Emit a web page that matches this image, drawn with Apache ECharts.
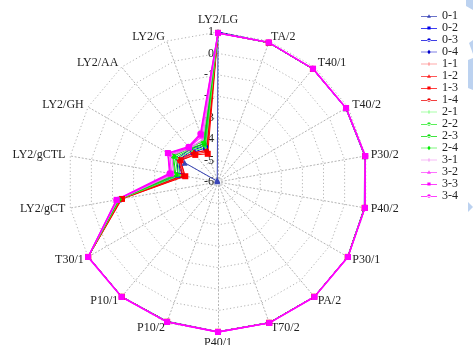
<!DOCTYPE html>
<html>
<head>
<meta charset="utf-8">
<style>
  html, body { margin: 0; padding: 0; background: #ffffff; }
  #chart { width: 473px; height: 345px; }
</style>
<script src="https://cdn.jsdelivr.net/npm/echarts@6/dist/echarts.min.js"></script>
</head>
<body>
<div id="chart"></div>
<script>
// Indicators, listed clockwise starting from the top.
const categories = ['LY2/LG', 'TA/2', 'T40/1', 'T40/2', 'P30/2', 'P40/2', 'P30/1', 'PA/2', 'T70/2',
  'P40/1', 'P10/2', 'P10/1', 'T30/1', 'LY2/gCT', 'LY2/gCTL', 'LY2/GH', 'LY2/AA', 'LY2/G'];

const radialMin = -6;
const radialMax = 1;

// Sample names, one per series.
const seriesNames = ['0-1', '0-2', '0-3', '0-4', '1-1', '1-2', '1-3', '1-4',
  '2-1', '2-2', '2-3', '2-4', '3-1', '3-2', '3-3', '3-4'];

// Values per sample, in the order of `categories`.
const v01 = [1.00, 0.93, 0.88, 0.88, 0.95, 0.93, 0.98, 0.98, 0.98, 0.98, 0.92, 0.98, 0.98, -1.30, -4.10, -4.20, -5.95, -5.90];
const v02 = [0.98, 0.92, 0.89, 0.89, 0.97, 0.95, 0.99, 0.99, 0.99, 0.99, 0.94, 0.99, 0.99, -1.35, -4.30, -4.00, -4.20, -4.30];
const v03 = [0.98, 0.92, 0.89, 0.90, 0.97, 0.95, 0.99, 0.99, 0.99, 0.99, 0.94, 0.99, 0.99, -1.30, -4.20, -3.90, -4.10, -4.20];
const v04 = [0.97, 0.91, 0.88, 0.89, 0.96, 0.94, 0.99, 0.99, 0.99, 0.99, 0.93, 0.99, 0.99, -1.28, -4.10, -3.80, -4.00, -4.10];
const v11 = [0.96, 0.92, 0.89, 0.90, 0.97, 0.95, 0.99, 0.99, 0.99, 0.99, 0.94, 0.99, 0.99, -1.40, -4.35, -3.95, -4.25, -4.40];
const v12 = [0.96, 0.92, 0.89, 0.90, 0.97, 0.95, 0.99, 0.99, 0.99, 0.99, 0.94, 0.99, 0.99, -1.42, -4.40, -4.00, -4.30, -4.50];
const v13 = [0.96, 0.92, 0.89, 0.90, 0.97, 0.95, 0.99, 0.99, 0.99, 0.99, 0.94, 0.99, 0.99, -1.45, -4.45, -3.98, -4.35, -4.60];
const v14 = [0.96, 0.92, 0.89, 0.90, 0.97, 0.95, 0.99, 0.99, 0.99, 0.99, 0.94, 0.99, 0.99, -1.38, -4.30, -3.90, -4.20, -4.45];
const v21 = [0.96, 0.92, 0.89, 0.90, 0.97, 0.95, 0.99, 0.99, 0.99, 0.99, 0.94, 0.99, 0.99, -1.35, -4.20, -3.80, -4.10, -4.30];
const v22 = [0.96, 0.92, 0.89, 0.90, 0.97, 0.95, 0.99, 0.99, 0.99, 0.99, 0.94, 0.99, 0.99, -1.33, -4.10, -3.70, -4.00, -4.20];
const v23 = [0.96, 0.92, 0.89, 0.90, 0.97, 0.95, 0.99, 0.99, 0.99, 0.99, 0.94, 0.99, 0.99, -1.30, -4.00, -3.60, -3.95, -4.10];
const v24 = [0.96, 0.92, 0.89, 0.90, 0.97, 0.95, 0.99, 0.99, 0.99, 0.99, 0.94, 0.99, 0.99, -1.28, -3.95, -3.55, -3.90, -4.00];
const v31 = [0.95, 0.93, 0.90, 0.90, 0.98, 0.96, 1.00, 1.00, 1.00, 1.00, 0.95, 1.00, 1.00, -1.25, -3.90, -3.50, -3.95, -3.90];
const v32 = [0.95, 0.93, 0.90, 0.90, 0.98, 0.96, 1.00, 1.00, 1.00, 1.00, 0.95, 1.00, 1.00, -1.22, -3.80, -3.40, -3.90, -3.75];
const v33 = [0.95, 0.93, 0.90, 0.90, 0.98, 0.96, 1.00, 1.00, 1.00, 1.00, 0.95, 1.00, 1.00, -1.20, -3.75, -3.30, -3.90, -3.65];
const v34 = [0.95, 0.93, 0.90, 0.90, 0.98, 0.96, 1.00, 1.00, 1.00, 1.00, 0.95, 1.00, 1.00, -1.18, -3.70, -3.30, -3.85, -3.60];

const seriesValues = [v01, v02, v03, v04, v11, v12, v13, v14, v21, v22, v23, v24, v31, v32, v33, v34];

// Styling per sample: colour, symbol and symbol size.
const styles = [
  { color: '#3a46b8', symbol: 'triangle', size: 6, icon: 'tri' },
  { color: '#0000ee', symbol: 'rect', size: 5, icon: 'sq' },
  { color: '#0000dd', symbol: 'circle', size: 4, icon: 'dot' },
  { color: '#0000cc', symbol: 'diamond', size: 5, icon: 'dia' },
  { color: '#ff5555', symbol: 'diamond', size: 3, icon: 'plus' },
  { color: '#ff2222', symbol: 'triangle', size: 5, icon: 'tri' },
  { color: '#ff0000', symbol: 'rect', size: 6, icon: 'sq' },
  { color: '#ee0000', symbol: 'circle', size: 5, icon: 'dot' },
  { color: '#55ff55', symbol: 'diamond', size: 3, icon: 'plus' },
  { color: '#22ee22', symbol: 'circle', size: 4, icon: 'dot' },
  { color: '#00dd00', symbol: 'circle', size: 5, icon: 'dot' },
  { color: '#00ee00', symbol: 'diamond', size: 5, icon: 'dia' },
  { color: '#ee77ee', symbol: 'diamond', size: 3, icon: 'plus' },
  { color: '#ff44ff', symbol: 'triangle', size: 5, icon: 'tri' },
  { color: '#ff00ff', symbol: 'rect', size: 6, icon: 'sq' },
  { color: '#ff00ff', symbol: 'circle', size: 6, icon: 'dot' }
];

// Legend glyphs: a thin line with the marker in the middle (18 x 5 box).
const legendGlyphs = {
  tri:  'path://M0,3h18v0.8h-18z M9,1L11.2,5H6.8z',
  sq:   'path://M0,3h18v0.8h-18z M7.2,1.2h3.6v3.6h-3.6z',
  dot:  'path://M0,3h18v0.8h-18z M7,3A2,2 0 1,0 11,3A2,2 0 1,0 7,3z',
  dia:  'path://M0,3h18v0.8h-18z M9,1L11,3.4L9,5.8L7,3.4z',
  plus: 'path://M0,3h18v0.8h-18z M8.6,1.4h0.8v4h-0.8z'
};

// The radar lays indicators out counter-clockwise, so feed it the reversed order.
const order = [0].concat(categories.slice(1).map((_, i) => categories.length - 1 - i));

const serif = 'Liberation Serif';

const indicator = order.map((i, k) => {
  const item = { name: categories[i], min: radialMin, max: radialMax };
  if (k === 0) {
    item.axisLabel = { show: true };
  }
  return item;
});

const series = seriesNames.map((name, s) => ({
  type: 'radar',
  name: name,
  symbol: styles[s].symbol,
  symbolSize: styles[s].size,
  itemStyle: { color: styles[s].color },
  lineStyle: { color: styles[s].color, width: s >= 12 ? 1.3 : 1 },
  emphasis: { disabled: true },
  data: [{ name: name, value: order.map(i => seriesValues[s][i]) }]
}));

const chart = echarts.init(document.getElementById('chart'), null, { renderer: 'canvas' });

const gridLine = { color: '#b4b4b4', type: [1.2, 2.4], width: 1 };

chart.setOption({
  animation: false,
  backgroundColor: '#ffffff',
  legend: {
    orient: 'vertical',
    left: 421,
    top: 10,
    padding: 0,
    itemGap: 0,
    itemWidth: 16,
    itemHeight: 5,
    selectedMode: false,
    textStyle: { fontFamily: serif, fontSize: 12, lineHeight: 12, color: '#222222' },
    data: seriesNames.map((name, s) => ({ name: name, icon: legendGlyphs[styles[s].icon] }))
  },
  radar: {
    center: [218, 182],
    radius: 150,
    startAngle: 90,
    shape: 'polygon',
    splitNumber: radialMax - radialMin,
    nameGap: 5,
    axisName: { color: '#222222', fontFamily: serif, fontSize: 12 },
    axisLine: { show: true, lineStyle: gridLine },
    splitLine: { show: true, lineStyle: gridLine },
    splitArea: { show: false },
    axisTick: { show: false },
    axisLabel: { show: false, fontFamily: serif, fontSize: 12, color: '#222222', margin: 4 },
    indicator: indicator
  },
  series: series,
  graphic: [
    { type: 'polygon', shape: { points: [[466, 0], [473, 0], [473, 10], [466, 6]] }, style: { fill: '#bcd2f0' } },
    { type: 'polygon', shape: { points: [[469, 43], [473, 40], [473, 54]] }, style: { fill: '#bcd2f0' } },
    { type: 'polygon', shape: { points: [[468, 60], [473, 58], [473, 90], [468, 88]] }, style: { fill: '#bcd2f0' } },
    { type: 'polygon', shape: { points: [[468, 202], [473, 207], [468, 212]] }, style: { fill: '#bcd2f0' } }
  ]
});
</script>
</body>
</html>
